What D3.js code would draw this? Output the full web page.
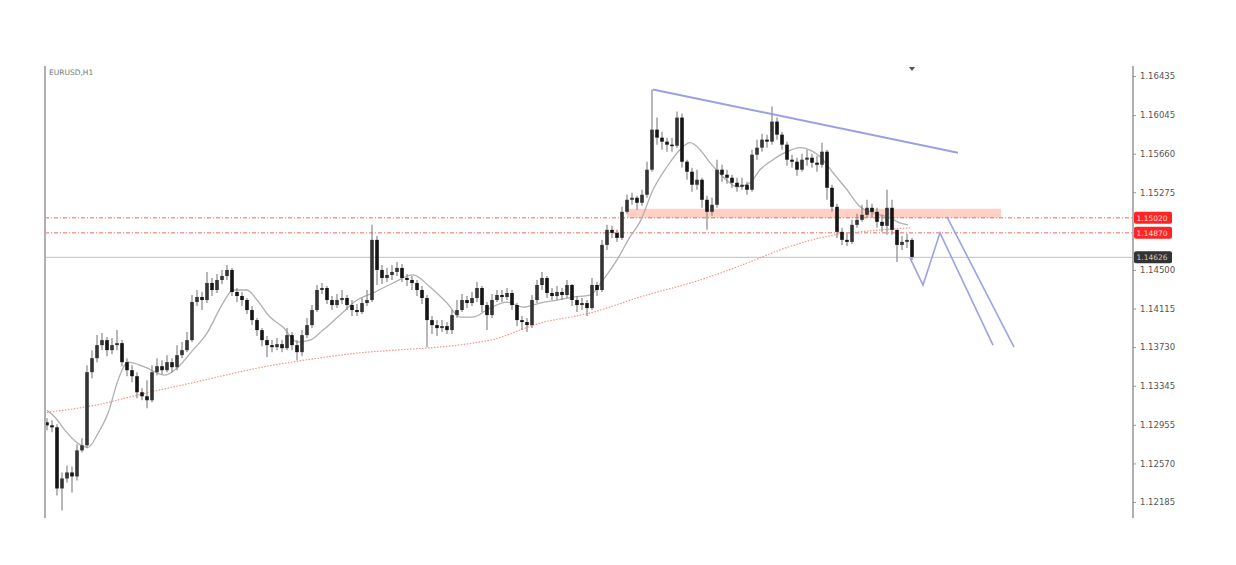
<!DOCTYPE html>
<html><head><meta charset="utf-8">
<script src="https://cdn.jsdelivr.net/npm/d3@7"></script>
<style>html,body{margin:0;padding:0;background:#fff;}svg{display:block;}</style>
</head><body>
<script>
const symbol = "EURUSD,H1";
const tickLabels = ["1.16435","1.16045","1.15660","1.15275","1.14500","1.14115","1.13730","1.13345","1.12955","1.12570","1.12185"];
const firstOpen = 1.1298;
const closes = [1.1295,1.1293,1.1232,1.1242,1.1248,1.1244,1.1270,1.1275,1.1348,1.1362,
1.1375,1.1380,1.1370,1.1375,1.1377,1.1358,1.1350,1.1344,1.1328,1.1324,
1.1320,1.1348,1.1354,1.1350,1.1358,1.1353,1.1365,1.1370,1.1380,1.1418,
1.1423,1.1420,1.1437,1.1430,1.1440,1.1444,1.1450,1.1428,1.1424,1.1420,
1.1410,1.1400,1.1390,1.1380,1.1375,1.1373,1.1376,1.1372,1.1385,1.1375,
1.1368,1.1385,1.1395,1.1410,1.1430,1.1432,1.1420,1.1415,1.1420,1.1422,
1.1415,1.1410,1.1408,1.1417,1.1420,1.1480,1.1450,1.1442,1.1445,1.1448,
1.1452,1.1442,1.1440,1.1437,1.1430,1.1422,1.1400,1.1395,1.1392,1.1394,
1.1390,1.1405,1.1410,1.1420,1.1417,1.1422,1.1432,1.1415,1.1405,1.1420,
1.1425,1.1423,1.1427,1.1415,1.1400,1.1398,1.1395,1.1420,1.1435,1.1442,
1.1427,1.1424,1.1428,1.1425,1.1435,1.1420,1.1415,1.1417,1.1412,1.1435,
1.1430,1.1475,1.1490,1.1487,1.1482,1.1508,1.1520,1.1522,1.1517,1.1525,
1.1550,1.1590,1.1582,1.1578,1.1575,1.1574,1.1602,1.1558,1.1548,1.1535,
1.1540,1.1520,1.1508,1.1515,1.1550,1.1545,1.1542,1.1537,1.1533,1.1535,
1.1530,1.1565,1.1572,1.1580,1.1578,1.1598,1.1585,1.1575,1.1560,1.1558,
1.1550,1.1560,1.1562,1.1557,1.1555,1.1568,1.1532,1.1513,1.1488,1.1480,
1.1478,1.1495,1.1500,1.1505,1.1512,1.1508,1.1498,1.1494,1.1512,1.1490,
1.1475,1.1478,1.1480,1.1463];
const highs = [1.1302,1.1300,1.1296,1.1248,1.1255,1.1254,1.1276,1.1282,1.1355,1.1370,
1.1385,1.1387,1.1383,1.1382,1.1390,1.1380,1.1362,1.1355,1.1348,1.1332,
1.1340,1.1355,1.1362,1.1360,1.1365,1.1362,1.1375,1.1378,1.1388,1.1425,
1.1430,1.1428,1.1448,1.1442,1.1446,1.1450,1.1455,1.1452,1.1432,1.1428,
1.1422,1.1414,1.1402,1.1392,1.1384,1.1380,1.1382,1.1380,1.1392,1.1388,
1.1380,1.1390,1.1402,1.1415,1.1435,1.1437,1.1434,1.1424,1.1426,1.1430,
1.1425,1.1420,1.1416,1.1422,1.1430,1.1495,1.1484,1.1455,1.1452,1.1455,
1.1458,1.1456,1.1446,1.1444,1.1440,1.1434,1.1425,1.1404,1.1400,1.1400,
1.1398,1.1410,1.1420,1.1426,1.1424,1.1428,1.1438,1.1434,1.1418,1.1426,
1.1430,1.1430,1.1432,1.1430,1.1417,1.1404,1.1402,1.1425,1.1440,1.1448,
1.1444,1.1432,1.1434,1.1432,1.1440,1.1436,1.1424,1.1422,1.1420,1.1442,
1.1438,1.1480,1.1495,1.1494,1.1490,1.1513,1.1525,1.1527,1.1524,1.1530,
1.1558,1.1630,1.1602,1.1588,1.1582,1.1582,1.1608,1.1606,1.1560,1.1552,
1.1550,1.1542,1.1524,1.1522,1.1560,1.1555,1.1550,1.1545,1.1542,1.1542,
1.1538,1.1570,1.1580,1.1586,1.1585,1.1613,1.1602,1.1588,1.1578,1.1565,
1.1562,1.1566,1.1570,1.1566,1.1564,1.1577,1.1570,1.1535,1.1516,1.1492,
1.1486,1.1500,1.1506,1.1515,1.1520,1.1516,1.1512,1.1505,1.1530,1.1520,
1.1490,1.1484,1.1486,1.1482];
const lows = [1.1290,1.1288,1.1225,1.1210,1.1238,1.1228,1.1240,1.1268,1.1272,1.1342,
1.1358,1.1370,1.1364,1.1366,1.1370,1.1354,1.1344,1.1338,1.1322,1.1320,
1.1312,1.1318,1.1345,1.1346,1.1348,1.1348,1.1350,1.1362,1.1368,1.1378,
1.1414,1.1410,1.1417,1.1424,1.1427,1.1436,1.1440,1.1424,1.1418,1.1414,
1.1406,1.1395,1.1384,1.1374,1.1363,1.1368,1.1370,1.1368,1.1370,1.1370,
1.1360,1.1364,1.1382,1.1392,1.1408,1.1426,1.1416,1.1410,1.1412,1.1416,
1.1410,1.1404,1.1404,1.1406,1.1414,1.1418,1.1435,1.1436,1.1438,1.1440,
1.1444,1.1438,1.1434,1.1430,1.1424,1.1416,1.1373,1.1386,1.1384,1.1388,
1.1386,1.1386,1.1402,1.1408,1.1412,1.1414,1.1418,1.1408,1.1390,1.1402,
1.1418,1.1418,1.1420,1.1410,1.1394,1.1390,1.1388,1.1392,1.1417,1.1430,
1.1422,1.1420,1.1420,1.1420,1.1422,1.1414,1.1408,1.1410,1.1404,1.1410,
1.1424,1.1428,1.1470,1.1482,1.1478,1.1480,1.1506,1.1515,1.1510,1.1514,
1.1522,1.1548,1.1575,1.1570,1.1568,1.1568,1.1572,1.1552,1.1540,1.1528,
1.1530,1.1512,1.1490,1.1504,1.1512,1.1538,1.1536,1.1532,1.1528,1.1530,
1.1525,1.1528,1.1560,1.1568,1.1572,1.1575,1.1580,1.1570,1.1554,1.1552,
1.1544,1.1548,1.1554,1.1552,1.1548,1.1552,1.1520,1.1508,1.1482,1.1475,
1.1474,1.1476,1.1492,1.1498,1.1502,1.1502,1.1492,1.1488,1.1485,1.1485,
1.1458,1.1470,1.1472,1.1460];
// fast moving average (gray): [bar index, price]
const maFast = [[0,1.1310],[1.6,1.1303],[3.6,1.1290],[6.2,1.1277],[8.2,1.1273],[10.2,1.1287],[12.2,1.1307],[14.2,1.1340],[16.2,1.1358],[19.6,1.1353],[23.6,1.1345],[26.2,1.1353],[29,1.1369],[32,1.1387],[35.2,1.1417],[37.2,1.1430],[40,1.1430],[42,1.1420],[44.6,1.1403],[47.2,1.1393],[50,1.1378],[52.6,1.1380],[55.2,1.1390],[58.6,1.1405],[62,1.1420],[65.2,1.1427],[69.2,1.1437],[73.2,1.1445],[76.6,1.1433],[80,1.1417],[82.6,1.1403],[85.2,1.1403],[88.6,1.1412],[92,1.1418],[95.2,1.1413],[98.6,1.1417],[102,1.1420],[105.2,1.1423],[108.6,1.1425],[111.2,1.1440],[114,1.1460],[116.6,1.1483],[118.6,1.1498],[121.2,1.1530],[124,1.1553],[126.6,1.1570],[128.6,1.1577],[130.6,1.1570],[132.6,1.1557],[135.2,1.1543],[138,1.1533],[140.6,1.1537],[142.6,1.1550],[145.2,1.1560],[148,1.1568],[150.6,1.1572],[153.2,1.1568],[154.6,1.1563],[157.2,1.1547],[160,1.1530],[162.6,1.1513],[165.2,1.1507],[168,1.1503],[170.6,1.1497],[172.2,1.1495]];
// slow moving average (red dotted): [bar index, price]
const maSlow = [[0,1.1308],[9.6,1.1315],[19.6,1.1327],[29.6,1.1338],[42,1.1352],[58.6,1.1365],[88.6,1.1380],[98.6,1.1397],[108.6,1.1407],[118.6,1.1423],[130.6,1.1440],[140.6,1.1458],[146.6,1.1470],[157.6,1.1485],[164.6,1.1489],[172.6,1.1492]];
const levels = [{price:1.15020,label:"1.15020"},{price:1.14870,label:"1.14870"}];
const zone = {from:116, to:190.8, top:1.1511, bottom:1.1502};
const lastPrice = {price:1.14626, label:"1.14626"};
const trendLine = [[121.2,1.1630],[182.2,1.1567]];
const projA = [[172.6,1.1462],[175.2,1.1435],[178.6,1.1487],[189.2,1.1375]];
const projB = [[180,1.1503],[193.4,1.1373]];

(function(){
const W=1236,H=565;
const svg=d3.select("body").append("svg").attr("width",W).attr("height",H);
const x=d3.scaleLinear().domain([-0.4,217.2]).range([45,1133]);
const y=d3.scaleLinear().domain([1.16435,1.12185]).range([76,502]);
const pTop=66,pBottom=518,pLeft=45,pRight=1133;

// zone
svg.append("rect").attr("x",x(zone.from)).attr("y",y(zone.top)).attr("width",x(zone.to)-x(zone.from)).attr("height",y(zone.bottom)-y(zone.top)).attr("fill","#ffc4b4").attr("opacity",0.8);
// level lines
levels.forEach(l=>{
  svg.append("line").attr("x1",pLeft).attr("x2",pRight).attr("y1",y(l.price)).attr("y2",y(l.price)).attr("stroke","#f26a5a").attr("stroke-width",1).attr("stroke-dasharray","4,2,1,2");
});
// current price line
svg.append("line").attr("x1",pLeft).attr("x2",pRight).attr("y1",y(lastPrice.price)).attr("y2",y(lastPrice.price)).attr("stroke","#c0c0c0").attr("stroke-width",1);

// slow MA
const line=d3.line().x(d=>x(d[0])).y(d=>y(d[1])).curve(d3.curveMonotoneX);
svg.append("path").attr("d",line(maSlow)).attr("fill","none").attr("stroke","#f4948a").attr("stroke-width",1.2).attr("stroke-dasharray","1.5,1.5");
// fast MA
svg.append("path").attr("d",line(maFast)).attr("fill","none").attr("stroke","#b0b0b0").attr("stroke-width",1.3);

// candles
const bars=closes.map((c,i)=>{const o=i===0?firstOpen:closes[i-1];return {i,o,c,h:Math.max(highs[i],o,c),l:Math.min(lows[i],o,c)};});
const g=svg.append("g");
g.selectAll("line.w").data(bars).join("line").attr("class","w")
 .attr("x1",d=>x(d.i)).attr("x2",d=>x(d.i)).attr("y1",d=>y(d.h)).attr("y2",d=>y(d.l)).attr("stroke","#888").attr("stroke-width",1.2);
g.selectAll("rect.b").data(bars).join("rect").attr("class","b")
 .attr("x",d=>x(d.i)-1.8).attr("width",3.6)
 .attr("y",d=>y(Math.max(d.o,d.c))).attr("height",d=>Math.max(1.5,Math.abs(y(d.o)-y(d.c))))
 .attr("fill",d=>d.c>=d.o?"#333":"#151515");

// trend line
svg.append("path").attr("d",d3.line().x(d=>x(d[0])).y(d=>y(d[1]))(trendLine)).attr("fill","none").attr("stroke","#8a8ee0").attr("stroke-width",2).attr("opacity",0.85);
// projections
[projA,projB].forEach(p=>svg.append("path").attr("d",d3.line().x(d=>x(d[0])).y(d=>y(d[1]))(p)).attr("fill","none").attr("stroke","#9da2e4").attr("stroke-width",1.6));

// axes frame
svg.append("line").attr("x1",pLeft).attr("x2",pLeft).attr("y1",pTop).attr("y2",pBottom).attr("stroke","#b0b0b0").attr("stroke-width",2);
svg.append("line").attr("x1",pRight).attr("x2",pRight).attr("y1",pTop).attr("y2",pBottom).attr("stroke","#b0b0b0").attr("stroke-width",2);

// right axis
const axis=d3.axisRight(y).tickValues(tickLabels.map(Number)).tickFormat((d,i)=>tickLabels[i]).tickSize(3).tickPadding(4);
const ag=svg.append("g").attr("transform",`translate(${pRight},0)`).call(axis);
ag.select(".domain").remove();
ag.selectAll("line").attr("stroke","#999");
ag.selectAll("text").attr("fill","#555").style("font-family","DejaVu Sans, sans-serif").style("font-size","8.5px");

// tags
function tag(price,label,fill,tc){
  const yy=y(price);
  svg.append("rect").attr("x",pRight+1).attr("y",yy-6).attr("width",38).attr("height",12).attr("rx",2).attr("fill",fill);
  svg.append("text").attr("x",pRight+3.5).attr("y",yy+3).text(label).attr("fill",tc).style("font-family","DejaVu Sans, sans-serif").style("font-size","7.5px");
}
levels.forEach(l=>tag(l.price,l.label,"#ff2424","#ffd8d8"));
tag(lastPrice.price,lastPrice.label,"#333333","#cfcfcf");

// symbol label
svg.append("text").attr("x",49).attr("y",75).text(symbol).attr("fill","#777").style("font-family","DejaVu Sans, sans-serif").style("font-size","7.5px");
// shift marker
svg.append("path").attr("d",`M${x(173)-3},67 L${x(173)+3},67 L${x(173)},71 Z`).attr("fill","#555");
})();
</script>
</body></html>
